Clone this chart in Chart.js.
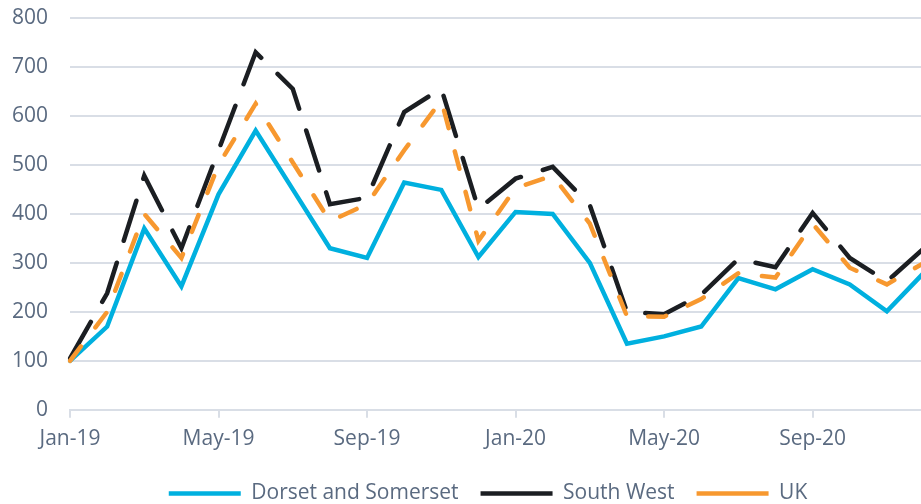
<!DOCTYPE html>
<html>
<head>
<meta charset="utf-8">
<script src="https://cdn.jsdelivr.net/npm/chart.js@4/dist/chart.umd.min.js"></script>
<style>
	html, body { margin: 0; padding: 0; background: #fff; overflow: hidden; }
	#wrap { width: 924px; height: 504px; }
</style>
</head>
<body>
<div id="wrap"><canvas id="myChart"></canvas></div>
<script>
var months = ["Jan-19","Feb-19","Mar-19","Apr-19","May-19","Jun-19","Jul-19","Aug-19","Sep-19","Oct-19","Nov-19","Dec-19",
	"Jan-20","Feb-20","Mar-20","Apr-20","May-20","Jun-20","Jul-20","Aug-20","Sep-20","Oct-20","Nov-20","Dec-20"];

var dorsetSomerset = [100,170,370,252,440,570,450,330,310,464,449,312,404,400,300,135,150,170,269,246,287,256,201,280];
var southWest = [105,238,478,330,530,730,655,420,433,608,656,410,472,496,418,200,195,235,308,291,402,310,262,330];
var uk = [100,200,400,310,500,625,505,385,420,530,632,345,453,478,380,191,190,226,279,270,380,290,256,300];

var textColor = "#5a6a80";
var gridColor = "#d9dee6";

Chart.defaults.font.family = "'Open Sans', sans-serif";
Chart.defaults.font.size = 21;
Chart.defaults.color = textColor;

// legend sits a little right of centre
var legendShift = {
	id : "legendShift",
	afterLayout : function(chart) {
		chart.legend.left += 31;
		chart.legend.right += 31;
	}
};

var ctx = document.getElementById("myChart");

var data = {
	labels : months,
	datasets : [
		{
			label : "Dorset and Somerset",
			data : dorsetSomerset,
			borderColor : "#00b0df",
			backgroundColor : "#00b0df",
			borderWidth : 4.5,
			borderCapStyle : "round",
			order : 3
		},
		{
			label : "South West",
			data : southWest,
			borderColor : "#1b1e22",
			backgroundColor : "#1b1e22",
			borderWidth : 4.5,
			borderDash : [42, 23],
			borderCapStyle : "round",
			order : 2
		},
		{
			label : "UK",
			data : uk,
			borderColor : "#f7982f",
			backgroundColor : "#f7982f",
			borderWidth : 4.5,
			borderDash : [18, 24],
			borderCapStyle : "round",
			order : 1
		}
	]
};

var myChart = new Chart(ctx, {
	type : "line",
	data : data,
	plugins : [legendShift],
	options : {
		responsive : true,
		maintainAspectRatio : false,
		animation : false,
		layout : { padding : { left : -10, top : 18, right : 0, bottom : -10 } },
		elements : {
			line : { tension : 0, fill : false },
			point : { radius : 0, hoverRadius : 0, pointStyle : "line" }
		},
		scales : {
			x : {
				grid : {
					drawOnChartArea : false,
					tickLength : 8,
					color : function(c) { return c.index % 4 === 0 ? gridColor : "transparent"; },
					lineWidth : 2
				},
				border : { color : gridColor, width : 2 },
				ticks : {
					autoSkip : false,
					maxRotation : 0,
					padding : 9,
					callback : function(v, i) { return i % 4 === 0 ? months[i] : ""; }
				},
				afterFit : function(scale) {
					scale.paddingLeft = 0;
					scale.paddingRight = 0;
				}
			},
			y : {
				min : 0,
				max : 800,
				grid : { color : gridColor, lineWidth : 2, drawTicks : false },
				border : { display : false },
				ticks : { stepSize : 100, padding : 22 },
				afterFit : function(scale) {
					scale.paddingTop = 0;
					scale.paddingBottom = 0;
				}
			}
		},
		plugins : {
			tooltip : { enabled : false },
			legend : {
				position : "bottom",
				labels : {
					usePointStyle : true,
					pointStyle : "line",
					pointStyleWidth : 72,
					padding : 22,
					color : textColor,
					sort : function(a, b) { return a.datasetIndex - b.datasetIndex; }
				}
			}
		}
	}
});
</script>
</body>
</html>
